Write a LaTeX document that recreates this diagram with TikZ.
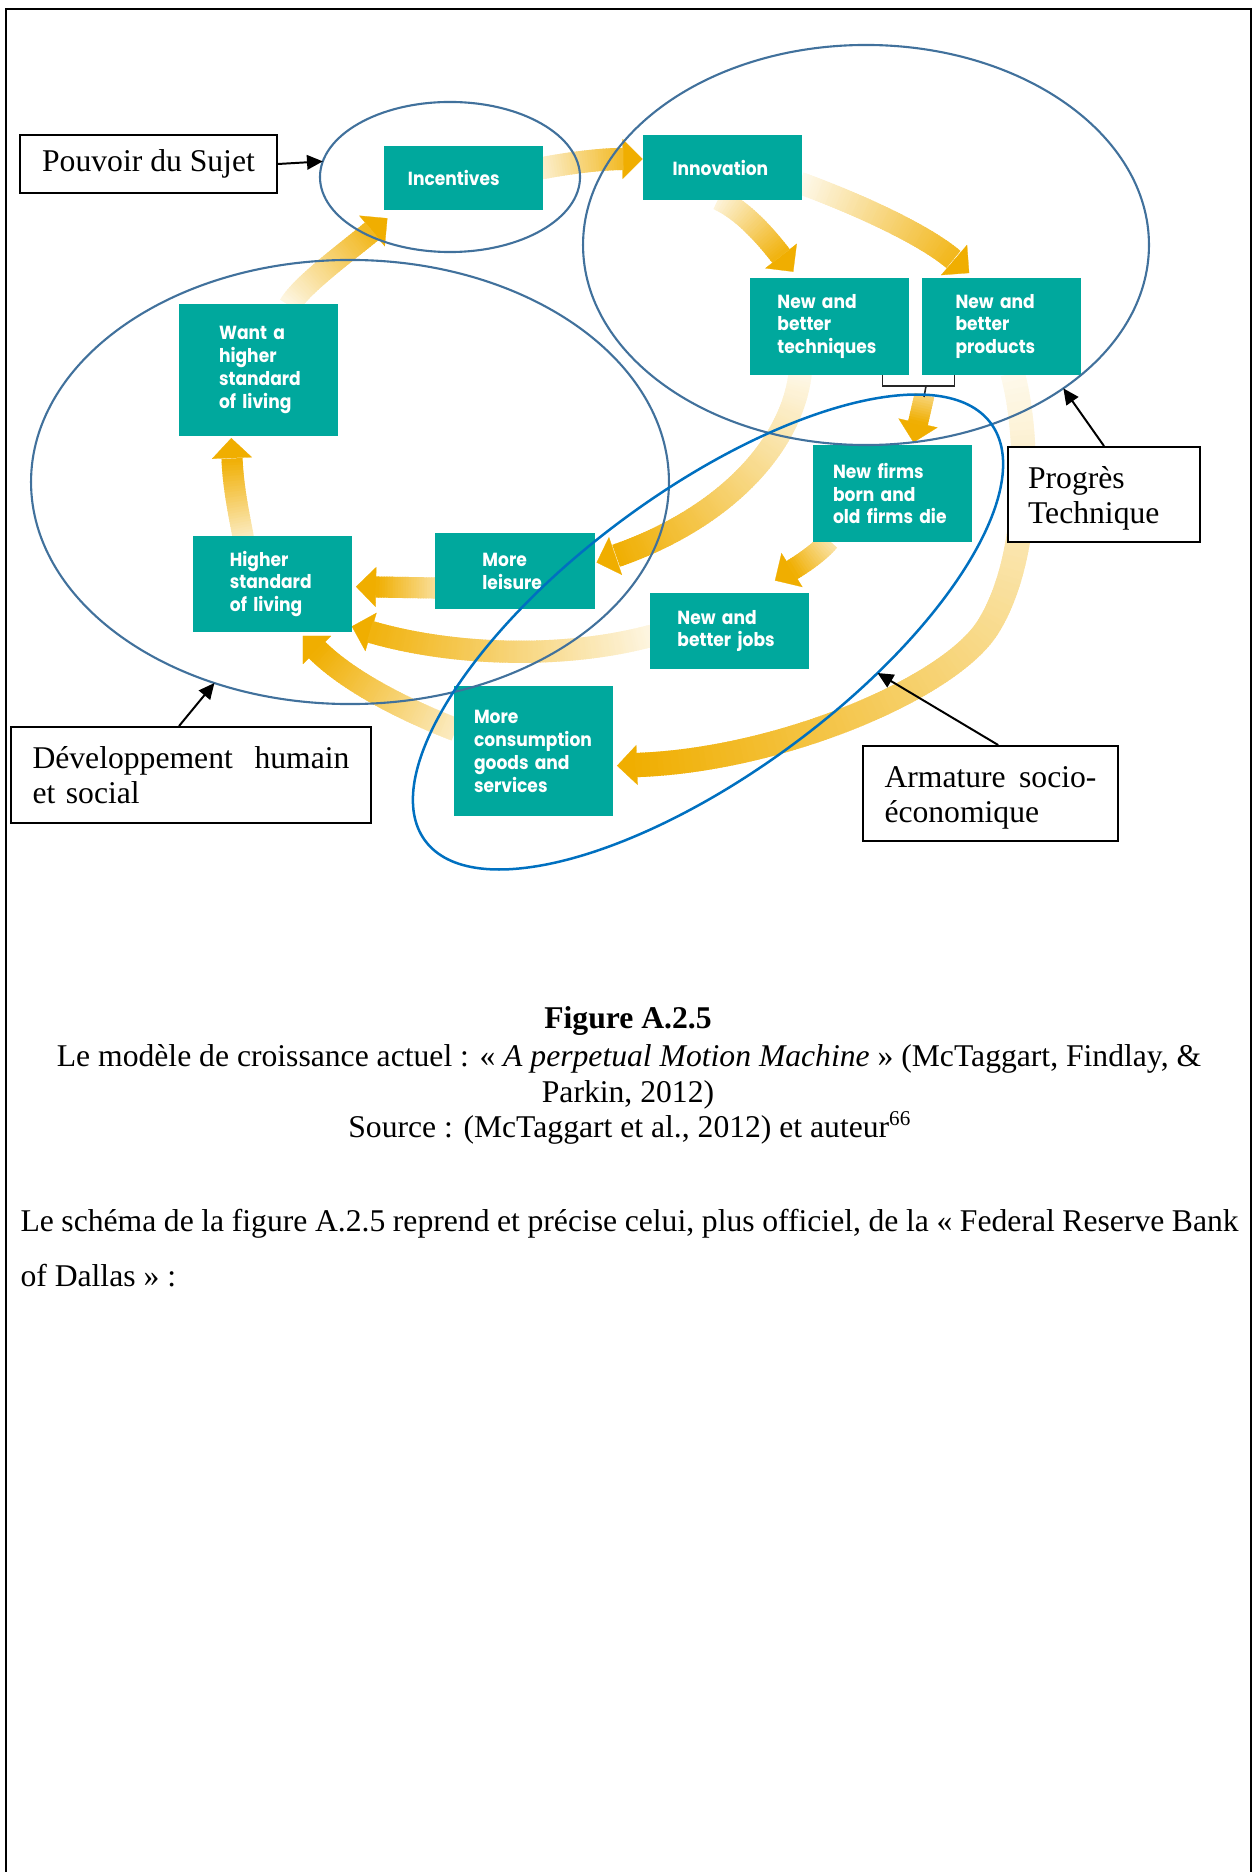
\documentclass[tikz,border=0pt]{standalone}
\usepackage{fontspec}
\setmainfont{Liberation Serif}
\newfontfamily\boxfont{Poppins}[FakeStretch=0.9]
\usetikzlibrary{arrows.meta,calc,decorations.markings,shapes.geometric}
\pgfdeclarelayer{flowlayer}
\pgfsetlayers{flowlayer,main}

\definecolor{boxteal}{RGB}{0,168,157}
\definecolor{flowc}{RGB}{240,174,0}
\definecolor{ringsteel}{RGB}{65,113,156}
\definecolor{ringblue}{RGB}{0,112,192}

\tikzset{
  txt/.style={font=\fontsize{12pt}{13.5pt}\selectfont},
  stage/.style={fill=boxteal, text=white,
    font=\boxfont\bfseries\fontsize{7.2pt}{8.7pt}\selectfont,
    align=left, text width=60.3pt, inner sep=0pt, outer sep=0pt},
  % thick fading arrow: #1 half width, #2 tint at start, #3 tint at end
  flow/.style n args={3}{draw=flowc, line width=0.1pt,
    -{Triangle[length=7.6pt,width=15.2pt]}, shorten >=-7.6pt,
    postaction={decorate, decoration={markings,
      mark=between positions 0 and 1 step 1pt with {%
        \pgfmathsetmacro\flowfrac{(\pgfkeysvalueof{/pgf/decoration/mark info/distance from start})/(\pgfdecoratedpathlength)}%
        \pgfmathtruncatemacro\flowshade{#2+(#3-#2)*\flowfrac}%
        \fill[flowc!\flowshade!white] (-0.75pt,-#1) rectangle (0.75pt,#1);}}}},
  ring/.style={draw=ringsteel, line width=0.8pt, ellipse, inner sep=0pt, outer sep=0pt},
  lbl/.style={txt, draw=black, fill=white, line width=0.75pt, inner ysep=0pt},
  pointer/.style={-{Triangle[length=6pt,width=5.5pt]}, line width=0.75pt},
  bracket/.style={line width=0.6pt, draw=black!85}
}

\begin{document}
\begin{tikzpicture}[x=0.3792pt, y=-0.3792pt]
\useasboundingbox (0,0) rectangle (1254,1872);

% page frame
\draw[line width=0.95pt] (6,1872) -- (6,9) -- (1251,9) -- (1251,1872);

% stages of the growth cycle
\node[stage, minimum height=50.1pt] (want) at (258.5,370) {\leftskip=15.2pt Want a\\higher\\standard\\of living\par};
\node[stage, minimum height=24.3pt] (inc) at (463.5,178) {\leftskip=9.1pt Incentives\par};
\node[stage, minimum height=24.6pt] (inn) at (722,167.5) {\leftskip=11.4pt Innovation\par};
\node[stage, minimum height=36.8pt] (tech) at (829,326.5) {\leftskip=10.6pt New and\\better\\techniques\par};
\node[stage, minimum height=36.8pt] (prod) at (1001,326.5) {\leftskip=12.9pt New and\\better\\products\par};
\node[stage, minimum height=36.8pt] (firms) at (892.5,493.5) {\leftskip=7.6pt New firms\\born and\\old firms die\par};
\node[stage, minimum height=28.8pt] (jobs) at (729,631) {\leftskip=10.6pt New and\\better jobs\par};
\node[stage, minimum height=49.3pt] (cons) at (533.5,751) {\leftskip=7.6pt More\\consumption\\goods and\\services\par};
\node[stage, minimum height=28.8pt] (leis) at (515,571) {\leftskip=17.8pt More\\leisure\par};
\node[stage, minimum height=36.4pt] (high) at (272.5,584) {\leftskip=14pt Higher\\standard\\of living\par};

% bracket joining techniques and products
\coordinate (brk) at (926,386);
\coordinate (brkend) at (924,397);
\draw[bracket] ($(tech.south east)+(-26,0)$) -- ++(0,11) -| ($(prod.south west)+(33,0)$);
\draw[bracket] (brk) -- (brkend);

% fading arrows behind the stages
\begin{pgfonlayer}{flowlayer}
\path[flow={4.2pt}{12}{90}] ($(want.north)+(32,0)$) .. controls (303,284) and (348,251) .. ($(inc.south west)+(-12,21)$);
\path[flow={4.2pt}{20}{85}] ($(inc.east)+(0,-10)$) .. controls (570,163) and (600,159) .. ($(inn.west)+(-20,-8.5)$);
\path[flow={4.2pt}{15}{95}] ($(inn.south)+(-2,0)$) .. controls (745,212) and (767,238) .. ($(tech.north)+(-48,-22)$);
\path[flow={4.2pt}{8}{90}] ($(inn.east)+(0,16)$) .. controls (860,205) and (925,235) .. ($(prod.north)+(-47,-18)$);
\path[flow={3.8pt}{55}{100}] (brkend) -- ($(firms.north)+(25.5,-22)$);
\path[flow={4.4pt}{10}{100}] ($(tech.south)+(-29,0)$) .. controls (790,450) and (720,520) .. ($(leis.east)+(21,-15)$);
\path[flow={4pt}{35}{100}] ($(firms.south)+(-64.5,0)$) .. controls (818,553) and (805,562) .. ($(jobs.north)+(63,-23)$);
\path[flow={4.2pt}{12}{95}] ($(jobs.west)+(1,5)$) .. controls (560,660) and (450,655) .. ($(high.east)+(19,48)$);
\path[flow={4pt}{40}{100}] ($(leis.west)+(0,17)$) -- ($(high.east)+(24,3)$);
\path[flow={4pt}{25}{100}] ($(high.north)+(-29.5,0)$) .. controls (238,510) and (233,485) .. ($(want.south)+(-26.5,22)$);
\path[flow={4.4pt}{25}{100}] ($(cons.west)+(0,-22)$) .. controls (410,712) and (350,683) .. ($(high.south east)+(-35,18)$);
\path[flow={4.6pt}{8}{100}] ($(prod.south)+(12,0)$) .. controls (1030,440) and (1030,560) .. (988,627)
      .. controls (950,688) and (780,760) .. ($(cons.east)+(24,14)$);
\end{pgfonlayer}

% groupings
\node[ring, minimum width=98.6pt, minimum height=56.9pt] (rsub) at (450,177) {};
\node[ring, minimum width=214.6pt, minimum height=151.7pt] (rtech) at (866,245) {};
\node[ring, minimum width=241.9pt, minimum height=168.4pt] (rhum) at (350,482) {};
\node[ring, draw=ringblue, line width=0.95pt, minimum width=266.6pt, minimum height=106.9pt, rotate=36.4] (rsoc) at (708,632) {};

% labels of the groupings
\node[lbl, inner xsep=0pt, minimum width=97.5pt, minimum height=22pt] (pv) at (148.5,164) {Pouvoir du Sujet};
\node[lbl, align=left, text width=57.6pt, inner xsep=7.6pt, minimum height=36pt] (pt) at (1104,494.5) {\rule{0pt}{11.3pt}Progrès\\Technique};
\node[lbl, align=left, text width=80.4pt, inner xsep=8.15pt, minimum height=36pt] (ar) at (990.5,793.5) {\rule{0pt}{11.3pt}\makebox[80.4pt][l]{Armature\hfill socio-}\\économique};
\node[lbl, align=left, text width=120.2pt, inner xsep=8.2pt, minimum height=36.4pt] (dv) at (191,775) {\makebox[120.2pt][l]{Développement\hfill humain}\\et social};

\draw[pointer] (pv.east) -- (rsub.173);
\draw[pointer] (pt.north) -- (rtech.324);
\draw[pointer] ($(ar.north west)!0.53!(ar.north east)$) -- (rsoc.310);
\draw[pointer] ($(dv.north west)!0.467!(dv.north east)$) -- (rhum.236);

% caption
\node[txt, anchor=base, inner sep=0pt] (figt) at (628,1028) {\textbf{Figure A.2.5}};
\node[txt, anchor=base, inner sep=0pt] (cap1) at (629,1066) {Le modèle de croissance actuel : « \textit{A perpetual Motion Machine} » (McTaggart, Findlay, \&};
\node[txt, anchor=base, inner sep=0pt] (cap2) at (628,1102) {Parkin, 2012)};
\node[txt, anchor=base, inner sep=0pt] (src) at (630,1137) {Source : (McTaggart et al., 2012) et auteur\textsuperscript{66}};

% following paragraph
\node[txt, anchor=base west, inner sep=0pt] (para1) at (20,1231) {\makebox[461.9pt][s]{Le schéma de la figure A.2.5 reprend et précise celui, plus officiel, de la « Federal Reserve Bank}};
\node[txt, anchor=base west, inner sep=0pt] (para2) at (20,1286) {of Dallas » :};
\end{tikzpicture}
\end{document}
